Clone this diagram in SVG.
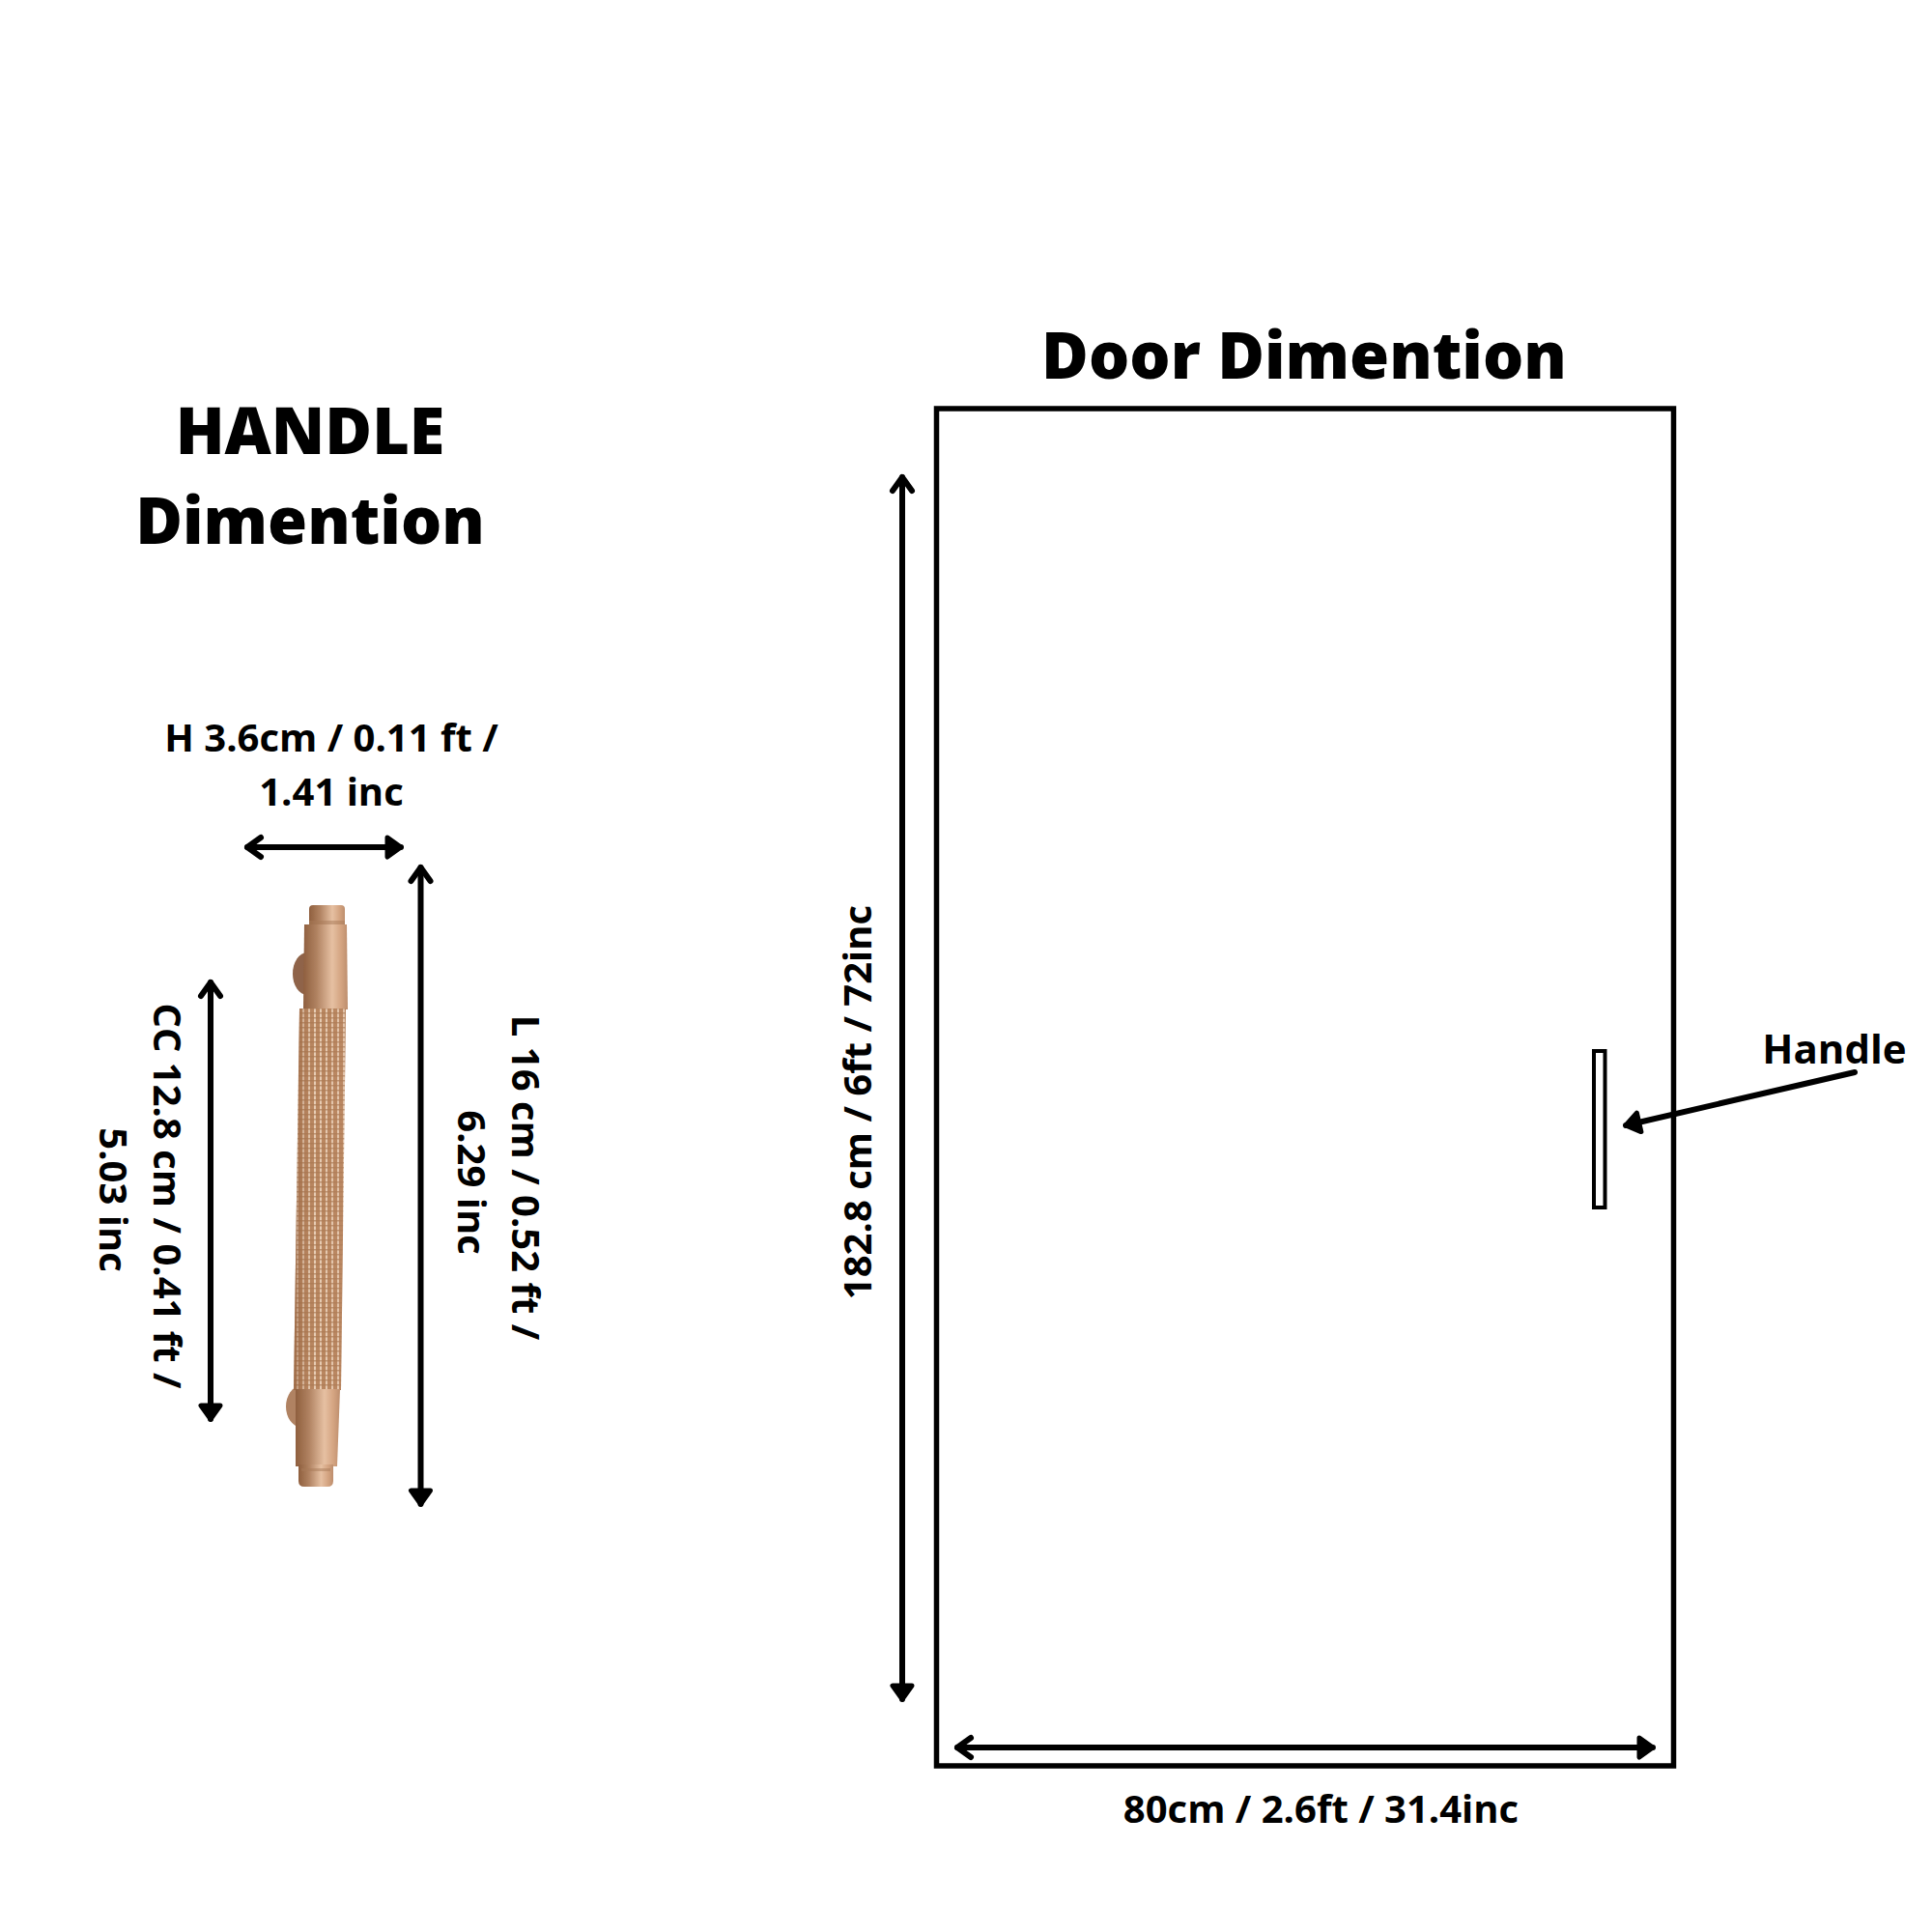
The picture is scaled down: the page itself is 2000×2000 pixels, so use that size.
<svg xmlns="http://www.w3.org/2000/svg" width="2000" height="2000" viewBox="0 0 2000 2000">
<style>
text{font-family:"Open Sans","Noto Sans","Liberation Sans",sans-serif;fill:#000;text-anchor:middle}
.t{font-size:66.500px;font-weight:800}
.l{font-size:40px;font-weight:700}
.c{fill:none;stroke:#000;stroke-width:6;stroke-linecap:round}
.b{fill:none;stroke:#000;stroke-width:5.500}
</style>
<defs>
<marker id="o" viewBox="-20 -15 24 30" refX="0" refY="0" markerWidth="24" markerHeight="30" markerUnits="userSpaceOnUse" orient="auto-start-reverse"><path d="M-14 -10L0 0L-14 10" fill="none" stroke="#000" stroke-width="6" stroke-linecap="round" stroke-linejoin="round"/></marker>
<marker id="f" viewBox="-20 -15 24 30" refX="0" refY="0" markerWidth="24" markerHeight="30" markerUnits="userSpaceOnUse" orient="auto"><path d="M-14 -10L0 0L-14 10Z" fill="#000" stroke="#000" stroke-width="5" stroke-linejoin="round"/></marker>
<linearGradient id="m" x1="0" x2="1" y1="0" y2="0"><stop offset="0" stop-color="#8f5f3e"/><stop offset=".3" stop-color="#b08261"/><stop offset=".65" stop-color="#e6c0a2"/><stop offset=".85" stop-color="#d4a481"/><stop offset="1" stop-color="#bd8e6d"/></linearGradient>
<linearGradient id="k2" x1="0" x2="1" y1="0" y2="0"><stop offset="0" stop-color="#8d5a38" stop-opacity=".55"/><stop offset=".4" stop-color="#b98862" stop-opacity=".15"/><stop offset="1" stop-color="#c08d6a" stop-opacity=".3"/></linearGradient>
<pattern id="k" width="6" height="5" patternUnits="userSpaceOnUse"><rect width="6" height="5" fill="#b98660"/><rect x="1" y="0" width="2" height="5" fill="#efd8c2"/><rect y="3" width="6" height="1.500" fill="#a97650" opacity=".7"/></pattern>
<filter id="soft" x="-10%" y="-5%" width="120%" height="110%"><feGaussianBlur stdDeviation=".7"/></filter>
</defs>
<g id="handle-title"><text class="t" x="321" y="470">HANDLE</text><text class="t" x="321" y="563">Dimention</text></g>
<g id="door-title"><text class="t" x="1350" y="392">Door Dimention</text></g>
<g id="door"><rect class="b" x="969.500" y="423" width="763" height="1405"/></g>
<g id="door-handle"><rect x="1650" y="1088" width="11.500" height="162" fill="none" stroke="#000" stroke-width="4"/></g>
<g id="handle" filter="url(#soft)">
<ellipse cx="318" cy="1008" rx="15" ry="22" fill="#8f6348"/>
<ellipse cx="311" cy="1456" rx="15" ry="21" fill="#b08262"/>
<path d="M320 941Q320 937 324 937H353Q357 937 357 941V958H320Z" fill="url(#m)"/>
<rect x="320" y="953" width="37" height="4" fill="#a87a58" opacity=".5"/>
<path d="M315 957H359L360 1045H314Z" fill="url(#m)"/>
<path d="M310 1044H358L353 1439H304Z" fill="url(#k)"/>
<path d="M310 1044H358L353 1439H304Z" fill="url(#k2)"/>
<path d="M306 1438H352L349 1518H306Z" fill="url(#m)"/>
<path d="M309 1516H345V1533Q345 1539 339 1539H315Q309 1539 309 1533Z" fill="url(#m)"/>
<rect x="312" y="1520" width="30" height="3" fill="#a87a58" opacity=".5"/>
</g>
<g id="connectors">
<path class="c" d="M256 877H415" marker-start="url(#o)" marker-end="url(#f)"/>
<path class="c" d="M435.500 898V1557" marker-start="url(#o)" marker-end="url(#f)"/>
<path class="c" d="M218 1017V1469" marker-start="url(#o)" marker-end="url(#f)"/>
<path class="c" d="M934 494V1759" marker-start="url(#o)" marker-end="url(#f)"/>
<path class="c" d="M991 1809H1711" marker-start="url(#o)" marker-end="url(#f)"/>
<path class="c" d="M1920 1110L1683 1165" marker-end="url(#f)"/>
</g>
<g id="labels">
<text class="l" x="343" y="778">H 3.6cm / 0.11 ft /</text>
<text class="l" x="343" y="834">1.41 inc</text>
<text class="l" transform="translate(159 1238) rotate(90)">CC 12.8 cm / 0.41 ft /</text>
<text class="l" transform="translate(103 1242) rotate(90)">5.03 inc</text>
<text class="l" transform="translate(530 1219) rotate(90)">L 16 cm / 0.52 ft /</text>
<text class="l" transform="translate(474 1224) rotate(90)">6.29 inc</text>
<text class="l" transform="translate(902 1141) rotate(-90)">182.8 cm / 6ft / 72inc</text>
<text class="l" x="1367.500" y="1887">80cm / 2.6ft / 31.4inc</text>
<text class="l" x="1899" y="1101" style="font-size:42px">Handle</text>
</g>
</svg>
